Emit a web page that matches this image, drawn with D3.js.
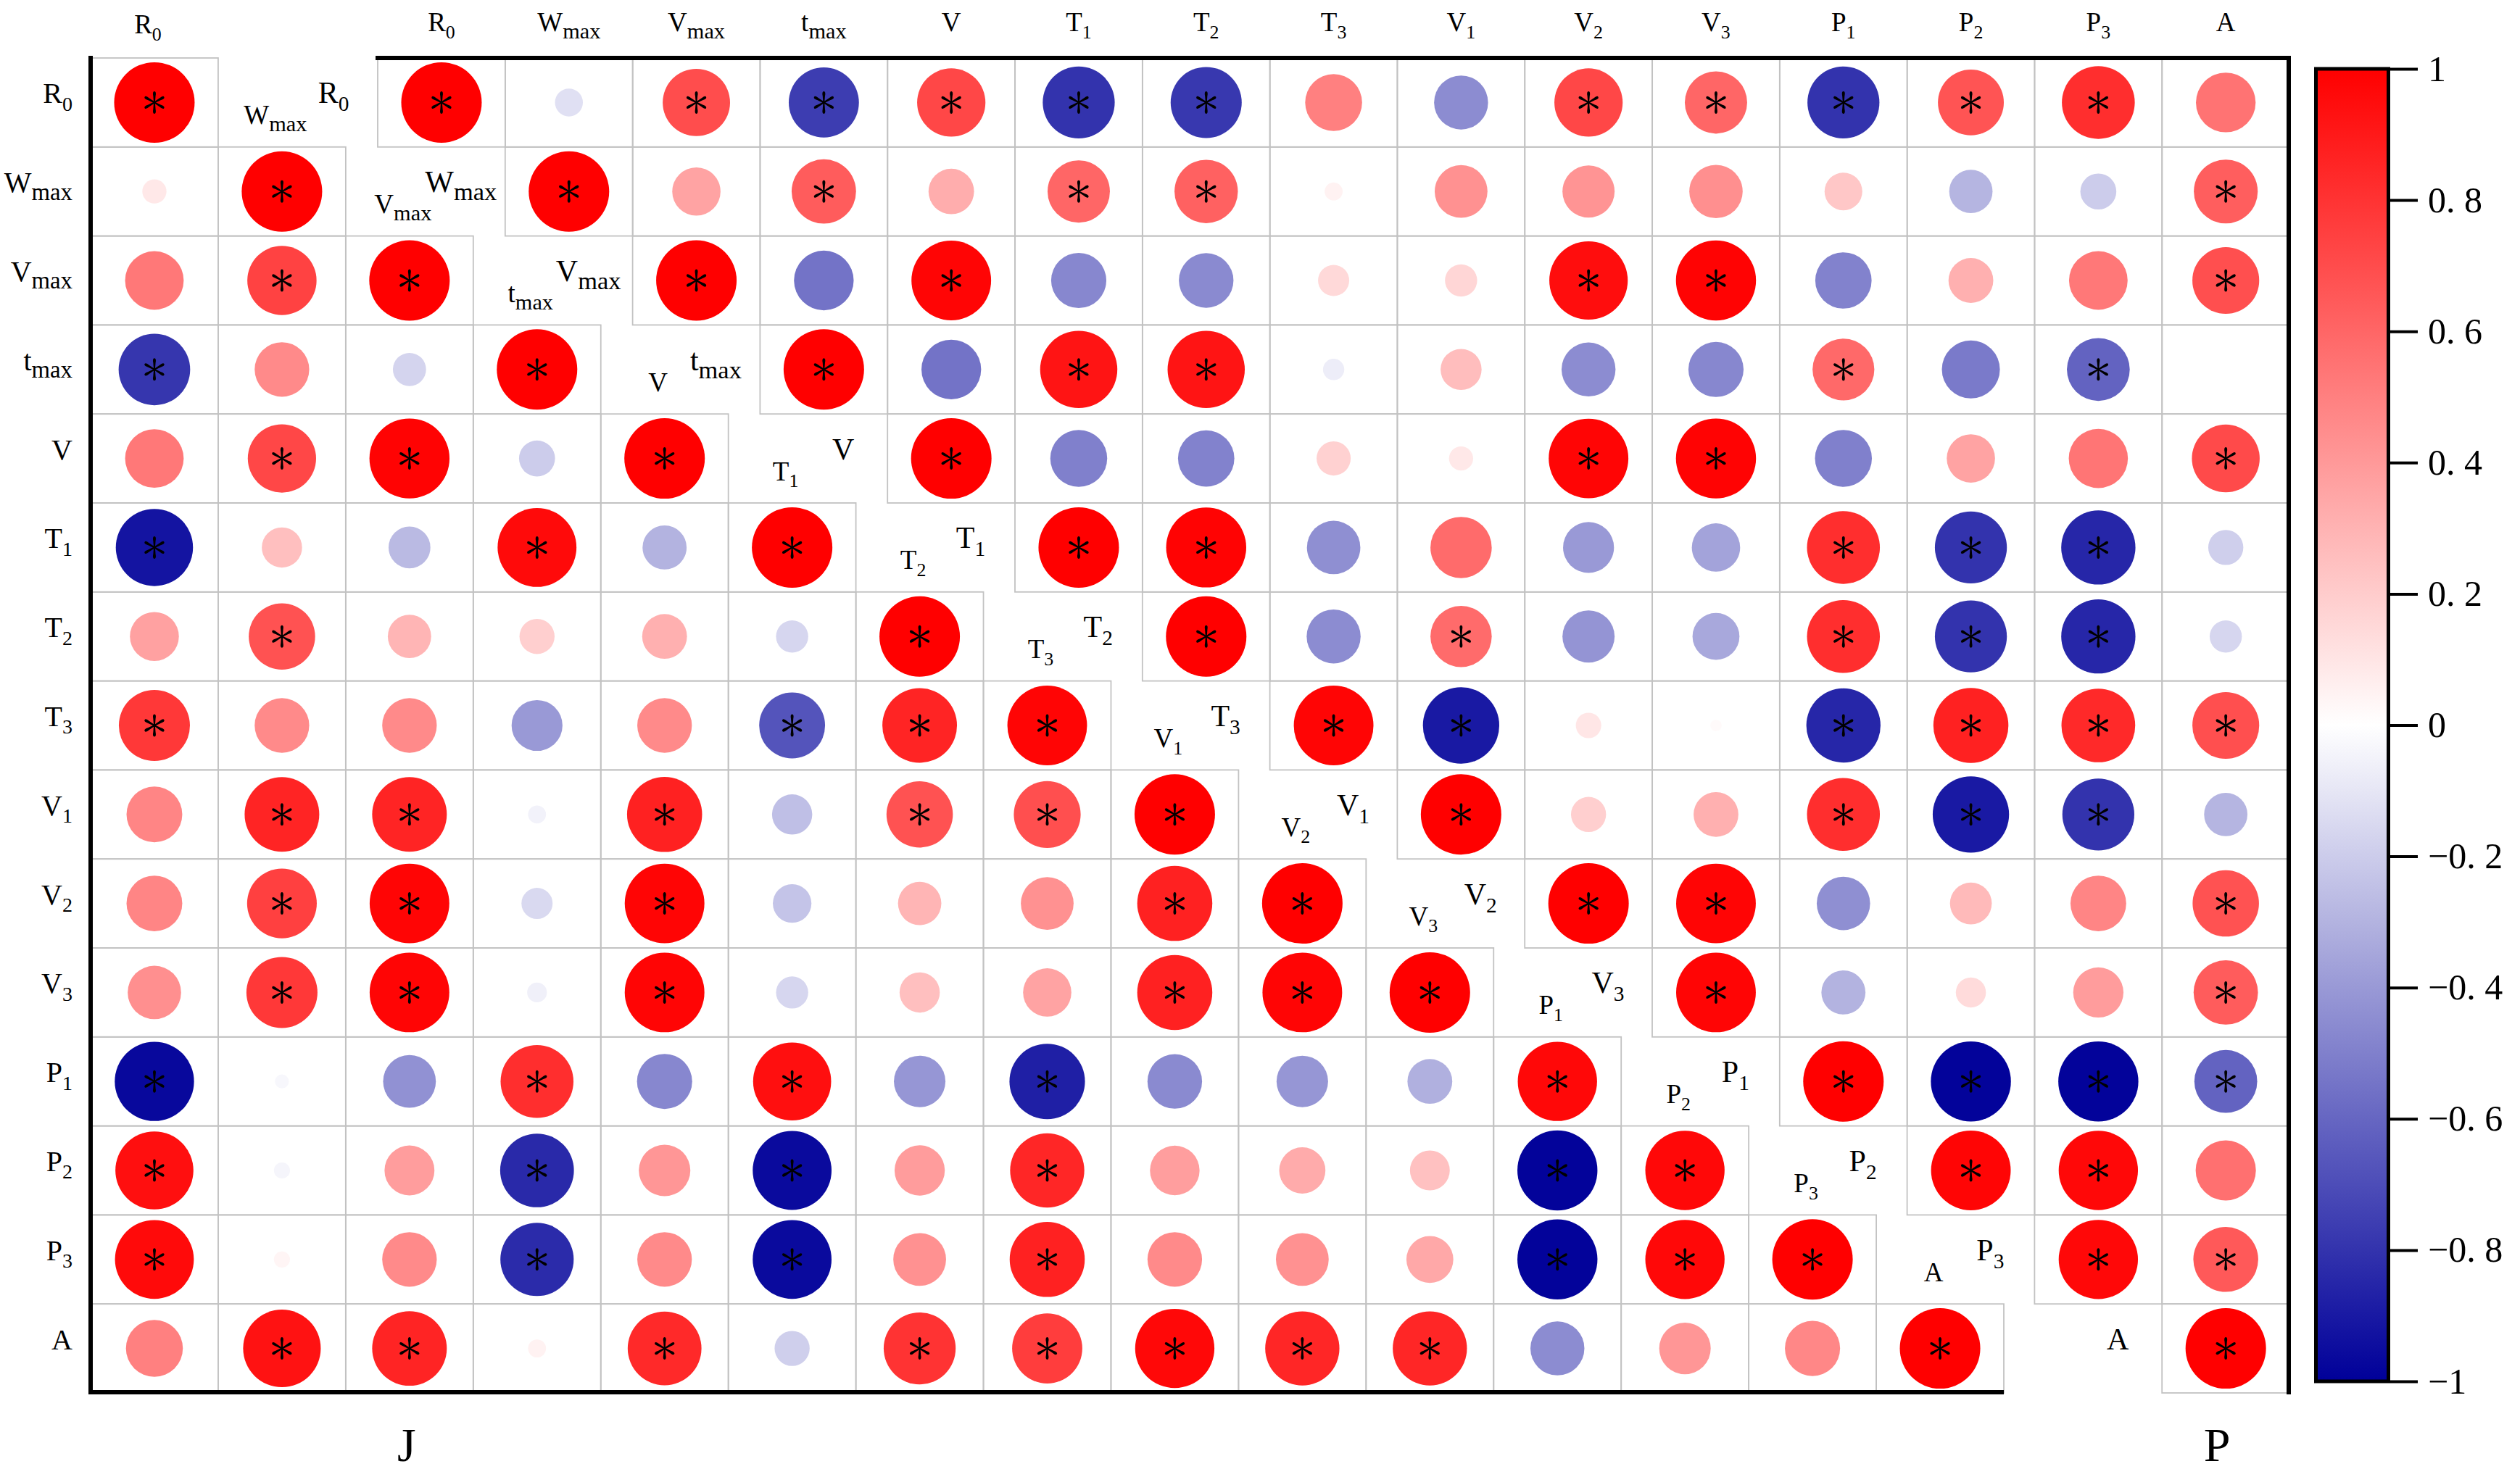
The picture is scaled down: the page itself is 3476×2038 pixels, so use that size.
<!DOCTYPE html>
<html><head><meta charset="utf-8">
<script src="https://cdn.jsdelivr.net/npm/d3@7"></script>
<style>body{margin:0;background:#fff}</style>
</head><body>
<svg id="chart" width="3476" height="2038"></svg>
<script>
// ---------- data ----------
const varBase = ["R","W","V","t","V","T","T","T","V","V","V","P","P","P","A"];
const varSub  = ["0","max","max","max","","1","2","3","1","2","3","1","2","3",""];

// panel J: lower triangle, row i holds columns 0..i
const jValues = [
  [1],
  [0.09, 1],
  [0.53, 0.74, 1],
  [-0.79, 0.46, -0.17, 1],
  [0.53, 0.72, 0.99, -0.2, 1],
  [-0.92, 0.25, -0.27, 0.96, -0.3, 1],
  [0.37, 0.68, 0.29, 0.19, 0.31, -0.16, 1],
  [0.78, 0.46, 0.46, -0.4, 0.46, -0.67, 0.86, 0.98],
  [0.48, 0.86, 0.86, -0.05, 0.87, -0.25, 0.68, 0.69, 1],
  [0.48, 0.75, 0.98, -0.15, 0.98, -0.23, 0.29, 0.43, 0.87, 1],
  [0.44, 0.78, 0.98, -0.06, 0.98, -0.16, 0.25, 0.36, 0.87, 0.98, 1],
  [-0.97, -0.03, -0.43, 0.82, -0.47, 0.94, -0.41, -0.88, -0.46, -0.41, -0.31, 0.97],
  [0.94, -0.04, 0.385, -0.84, 0.41, -0.96, 0.39, 0.85, 0.38, 0.33, 0.245, -0.99, 0.97],
  [0.96, 0.04, 0.46, -0.83, 0.46, -0.96, 0.43, 0.87, 0.46, 0.43, 0.34, -0.99, 0.97, 1],
  [0.5, 0.93, 0.86, 0.05, 0.84, -0.19, 0.8, 0.76, 0.97, 0.85, 0.85, -0.45, 0.41, 0.47, 1]
];
const jSig = [
  [1],
  [0,1],
  [0,1,1],
  [1,0,0,1],
  [0,1,1,0,1],
  [1,0,0,1,0,1],
  [0,1,0,0,0,0,1],
  [1,0,0,0,0,1,1,1],
  [0,1,1,0,1,0,1,1,1],
  [0,1,1,0,1,0,0,0,1,1],
  [0,1,1,0,1,0,0,0,1,1,1],
  [1,0,0,1,0,1,0,1,0,0,0,1],
  [1,0,0,1,0,1,0,1,0,0,0,1,1],
  [1,0,0,1,0,1,0,1,0,0,0,1,1,1],
  [0,1,1,0,1,0,1,1,1,1,1,0,0,0,1]
];

// panel P: upper triangle, row i holds columns i..14
const pValues = [
  [1, -0.12, 0.7, -0.76, 0.72, -0.8, -0.78, 0.5, -0.45, 0.72, 0.6, -0.8, 0.67, 0.82, 0.55],
  [1, 0.36, 0.64, 0.32, 0.6, 0.62, 0.05, 0.43, 0.42, 0.44, 0.22, -0.29, -0.2, 0.63],
  [1, -0.55, 0.98, -0.47, -0.46, 0.15, 0.16, 0.95, 0.99, -0.49, 0.31, 0.53, 0.69],
  [1, -0.55, 0.92, 0.92, -0.07, 0.26, -0.45, -0.47, 0.59, -0.52, -0.61, 0],
  [1, -0.5, -0.49, 0.18, 0.09, 0.98, 0.99, -0.5, 0.36, 0.54, 0.71],
  [1, 0.99, -0.44, 0.58, -0.4, -0.36, 0.82, -0.8, -0.85, -0.19],
  [1, -0.45, 0.58, -0.42, -0.34, 0.82, -0.8, -0.85, -0.16],
  [0.98, -0.9, 0.1, 0.02, -0.85, 0.87, 0.84, 0.69],
  [1, 0.19, 0.31, 0.82, -0.9, -0.8, -0.29],
  [1, 0.98, -0.44, 0.27, 0.48, 0.68],
  [0.98, -0.3, 0.14, 0.39, 0.64],
  [1, -0.99, -0.99, -0.61],
  [0.98, 0.97, 0.56],
  [0.97, 0.65],
  [1]
];
const pSig = [
  [1,0,1,1,1,1,1,0,0,1,1,1,1,1,0],
  [1,0,1,0,1,1,0,0,0,0,0,0,0,1],
  [1,0,1,0,0,0,0,1,1,0,0,0,1],
  [1,0,1,1,0,0,0,0,1,0,1,0],
  [1,0,0,0,0,1,1,0,0,0,1],
  [1,1,0,0,0,0,1,1,1,0],
  [1,0,1,0,0,1,1,1,0],
  [1,1,0,0,1,1,1,1],
  [1,0,0,1,1,1,0],
  [1,1,0,0,0,1],
  [1,0,0,0,1],
  [1,1,1,1],
  [1,1,0],
  [1,1],
  [1]
];

const tickValues = [1, 0.8, 0.6, 0.4, 0.2, 0, -0.2, -0.4, -0.6, -0.8, -1];
const tickLabels = ["1","0. 8","0. 6","0. 4","0. 2","0","\u22120. 2","\u22120. 4","\u22120. 6","\u22120. 8","\u22121"];
const panelNames = ["J","P"];

// ---------- drawing ----------
const W = 3476, H = 2038;
const FONT = "'Liberation Serif','Times New Roman',serif";
const svg = d3.select("#chart");
svg.append("rect").attr("width", W).attr("height", H).attr("fill", "#fff");

const idx = d3.range(varBase.length);
const y  = d3.scaleBand().domain(idx).range([80, 1922]);
const xJ = d3.scaleBand().domain(idx).range([125, 2764]);
const xP = d3.scaleBand().domain(idx).range([521, 3158]);
const bw = xJ.bandwidth(), bh = y.bandwidth();
const color = d3.scaleLinear().domain([-1, 0, 1]).range(["#000099", "#ffffff", "#ff0000"]);
const rad = d3.scaleSqrt().domain([0, 1]).range([0, 55.5]);

const jCells = [];
jValues.forEach((row, i) => row.forEach((v, j) => jCells.push({i, j, v, s: jSig[i][j], x: xJ})));
const pCells = [];
pValues.forEach((row, i) => row.forEach((v, t) => pCells.push({i, j: i + t, v, s: pSig[i][t], x: xP})));
const cells = jCells.concat(pCells);

// cell borders
svg.append("g").selectAll("rect").data(cells).join("rect")
  .attr("x", d => d.x(d.j)).attr("y", d => y(d.i))
  .attr("width", bw).attr("height", bh)
  .attr("fill", "none").attr("stroke", "#c2c2c2").attr("stroke-width", 1.8);

// circles
svg.append("g").selectAll("circle").data(cells).join("circle")
  .attr("cx", d => d.x(d.j) + bw / 2).attr("cy", d => y(d.i) + bh / 2)
  .attr("r", d => rad(Math.abs(d.v)))
  .attr("fill", d => color(d.v));

// significance asterisks
const arm = "M0,-0.9 L9,-1.6 Q15.5,-2.9 15.5,0 Q15.5,2.9 9,1.6 L0,0.9 Z";
const stars = svg.append("g").selectAll("g").data(cells.filter(d => d.s)).join("g")
  .attr("transform", d => `translate(${d.x(d.j) + bw / 2},${y(d.i) + bh / 2})`);
[90, 270, 30, 150, 210, 330].forEach(a => {
  stars.append("path").attr("d", arm).attr("fill", "#000").attr("transform", `rotate(${-a})`);
});
stars.append("circle").attr("r", 1.8).attr("fill", "#000");

// thick frame lines
const frame = svg.append("g").attr("stroke", "#000").attr("stroke-width", 6).attr("fill", "none");
frame.append("line").attr("x1", 125).attr("x2", 125).attr("y1", 77).attr("y2", 1924);
frame.append("line").attr("x1", 122).attr("x2", 2764).attr("y1", 1921).attr("y2", 1921);
frame.append("line").attr("x1", 518).attr("x2", 3160).attr("y1", 80).attr("y2", 80);
frame.append("line").attr("x1", 3157).attr("x2", 3157).attr("y1", 77).attr("y2", 1924);

// label helper
function addLabel(x, yy, i, size, anchor) {
  const t = svg.append("text").attr("x", x).attr("y", yy)
    .attr("font-family", FONT).attr("font-size", size).attr("text-anchor", anchor).attr("fill", "#000");
  t.append("tspan").text(varBase[i]);
  if (varSub[i]) {
    const ss = (varSub[i] === "max" ? 0.82 : 0.7) * size;
    t.append("tspan").attr("font-size", ss).attr("dy", 0.26 * size).text(varSub[i]);
  }
}

// left row labels
idx.forEach(i => addLabel(100, y(i) + bh / 2 + 1, i, 40, "end"));
// top labels: J column 0 and all P columns
addLabel(xJ(0) + bw / 2 - 9, 46, 0, 37, "middle");
idx.forEach(k => addLabel(xP(k) + bw / 2, 43, k, 37, "middle"));
// J column labels along the staircase
idx.filter(j => j > 0).forEach(j => addLabel(xJ(j) + bw / 2 - 9, y(j - 1) + bh / 2 + 30, j, 37, "middle"));
// P row labels along the staircase
idx.forEach(i => addLabel(xP(i) - 61, y(i) + bh / 2 + 1, i, 42, "middle"));

// panel titles
svg.append("text").attr("x", xJ(2) + bw / 2 - 4).attr("y", 2016).attr("text-anchor", "middle")
  .attr("font-family", FONT).attr("font-size", 66).text(panelNames[0]);
svg.append("text").attr("x", xP(14) + bw / 2 - 12).attr("y", 2016).attr("text-anchor", "middle")
  .attr("font-family", FONT).attr("font-size", 66).text(panelNames[1]);

// colour bar
const cbY = d3.scaleLinear().domain([-1, 1]).range([1906, 95]);
const defs = svg.append("defs");
const grad = defs.append("linearGradient").attr("id", "cbgrad")
  .attr("x1", 0).attr("y1", 1).attr("x2", 0).attr("y2", 0);
d3.range(-1, 1.0001, 0.1).forEach(v => {
  grad.append("stop").attr("offset", (v + 1) / 2).attr("stop-color", color(v));
});
svg.append("rect").attr("x", 3194.5).attr("y", cbY(1)).attr("width", 100).attr("height", cbY(-1) - cbY(1))
  .attr("fill", "url(#cbgrad)").attr("stroke", "#000").attr("stroke-width", 5);
const cbAxis = d3.axisRight(cbY).tickValues(tickValues).tickSize(38).tickPadding(14)
  .tickFormat((d, i) => tickLabels[i]);
const ag = svg.append("g").attr("transform", "translate(3297,0)").call(cbAxis);
ag.select(".domain").remove();
ag.selectAll(".tick line").attr("stroke", "#000").attr("stroke-width", 4);
ag.selectAll(".tick text").attr("font-family", FONT).attr("font-size", 50).attr("fill", "#000");
</script>
</body></html>
